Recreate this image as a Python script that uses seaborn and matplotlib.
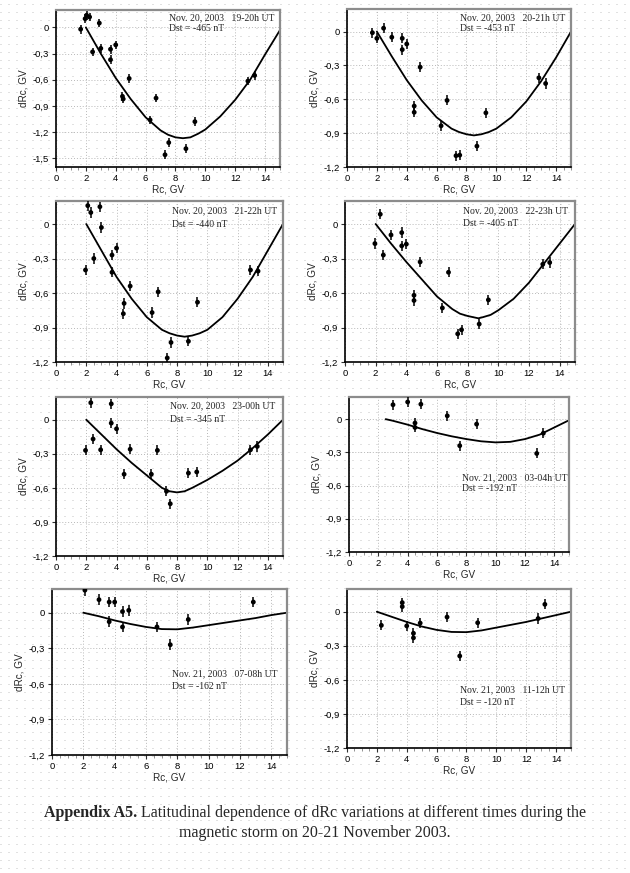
import numpy as np
import pandas as pd
import matplotlib
matplotlib.use("Agg")
import matplotlib.pyplot as plt
import seaborn as sns
from matplotlib.ticker import FixedLocator, FuncFormatter, MultipleLocator

sns.set_theme(style="white")
plt.rcParams['font.family'] = ['Liberation Sans', 'DejaVu Sans']

# ---------------- data ----------------
# panel 1: Nov 20, 19-20h UT
p1_rc = [1.65, 1.95, 2.05, 2.25, 2.45, 2.9, 3.0, 3.65, 3.65, 4.0, 4.45, 4.5, 4.9, 6.3, 6.7, 7.3, 7.55, 8.7, 9.3, 12.85, 13.3]
p1_drc = [-0.02, 0.10, 0.14, 0.12, -0.28, 0.05, -0.24, -0.25, -0.37, -0.20, -0.79, -0.82, -0.585, -1.06, -0.81, -1.46, -1.32, -1.39, -1.08, -0.615, -0.55]
p1_cx = [2, 3, 4, 5, 6, 7, 7.5, 8, 8.5, 9, 9.5, 10, 11, 12, 13, 14, 15]
p1_cy = [0.0, -0.30, -0.58, -0.82, -1.03, -1.18, -1.23, -1.26, -1.27, -1.26, -1.22, -1.17, -1.02, -0.83, -0.60, -0.31, -0.03]

# panel 2: Nov 20, 20-21h UT
p2_rc = [1.7, 2.0, 2.45, 3.0, 3.7, 3.7, 4.0, 4.5, 4.5, 4.9, 6.3, 6.7, 7.3, 7.55, 8.7, 9.3, 12.85, 13.3]
p2_drc = [-0.01, -0.06, 0.03, -0.05, -0.06, -0.16, -0.11, -0.66, -0.715, -0.315, -0.835, -0.61, -1.10, -1.095, -1.015, -0.72, -0.41, -0.46]
p2_cx = [2, 3, 4, 5, 6, 7, 7.5, 8, 8.5, 9, 9.5, 10, 11, 12, 13, 14, 15]
p2_cy = [0.0, -0.22, -0.43, -0.61, -0.76, -0.86, -0.89, -0.91, -0.92, -0.91, -0.89, -0.86, -0.76, -0.62, -0.44, -0.23, 0.0]

# panel 3: Nov 20, 21-22h UT
p3_rc = [1.95, 2.1, 2.3, 2.5, 2.9, 3.0, 3.7, 3.7, 4.0, 4.45, 4.5, 4.9, 6.35, 6.75, 7.35, 7.6, 8.75, 9.35, 12.85, 13.35]
p3_drc = [-0.40, 0.16, 0.10, -0.30, 0.15, -0.03, -0.27, -0.42, -0.21, -0.78, -0.69, -0.54, -0.77, -0.59, -1.165, -1.03, -1.02, -0.68, -0.40, -0.41]
p3_cx = [2, 3, 4, 5, 6, 7, 7.5, 8, 8.5, 9, 9.5, 10, 11, 12, 13, 14, 15]
p3_cy = [0.0, -0.23, -0.46, -0.65, -0.81, -0.92, -0.95, -0.97, -0.98, -0.97, -0.95, -0.92, -0.81, -0.65, -0.46, -0.23, 0.0]

# panel 4: Nov 20, 22-23h UT
p4_rc = [1.95, 2.3, 2.5, 3.0, 3.7, 3.7, 4.0, 4.9, 4.5, 4.5, 6.35, 6.75, 7.35, 7.6, 8.75, 9.35, 12.9, 13.35]
p4_drc = [-0.17, 0.085, -0.27, -0.095, -0.075, -0.19, -0.175, -0.33, -0.62, -0.665, -0.73, -0.42, -0.955, -0.92, -0.87, -0.66, -0.35, -0.335]
p4_cx = [2, 3, 4, 5, 6, 7, 7.5, 8, 8.7, 9, 9.5, 10, 11, 12, 13, 14, 15]
p4_cy = [0.0, -0.17, -0.33, -0.48, -0.63, -0.74, -0.78, -0.80, -0.82, -0.81, -0.79, -0.75, -0.65, -0.51, -0.34, -0.17, 0.0]

# panel 5: Nov 20, 23-00h UT
p5_rc = [1.95, 2.3, 2.45, 2.95, 3.65, 3.65, 4.0, 4.5, 4.9, 6.3, 6.7, 7.3, 7.55, 8.75, 9.3, 12.85, 13.3]
p5_drc = [-0.27, 0.15, -0.17, -0.265, 0.14, -0.03, -0.08, -0.48, -0.26, -0.48, -0.27, -0.63, -0.74, -0.47, -0.46, -0.265, -0.235]
p5_cx = [2, 3, 4, 5, 6, 7, 7.5, 8, 8.5, 9, 10, 11, 12, 13, 14, 15]
p5_cy = [0.0, -0.13, -0.26, -0.38, -0.49, -0.60, -0.63, -0.64, -0.63, -0.60, -0.53, -0.45, -0.36, -0.25, -0.13, 0.0]

# panel 6: Nov 21, 03-04h UT
p6_rc = [3.0, 4.0, 4.9, 6.7, 4.5, 4.5, 7.55, 8.7, 12.8, 13.25]
p6_drc = [0.13, 0.155, 0.135, 0.03, -0.035, -0.075, -0.24, -0.045, -0.31, -0.127]
p6_cx = [2.5, 3, 4, 5, 6, 7, 8, 9, 10, 11, 12, 13, 14, 15]
p6_cy = [0.0, -0.015, -0.05, -0.09, -0.125, -0.155, -0.18, -0.20, -0.21, -0.205, -0.18, -0.14, -0.075, -0.01]

# panel 7: Nov 21, 07-08h UT
p7_rc = [2.1, 3.0, 3.65, 4.0, 4.5, 4.9, 3.65, 4.5, 6.7, 7.55, 8.7, 12.85]
p7_drc = [0.19, 0.11, 0.09, 0.09, 0.01, 0.02, -0.076, -0.12, -0.12, -0.27, -0.057, 0.09]
p7_cx = [2, 3, 4, 5, 6, 7, 8, 9, 10, 11, 12, 13, 14, 15]
p7_cy = [0.0, -0.03, -0.065, -0.095, -0.12, -0.138, -0.14, -0.125, -0.105, -0.085, -0.065, -0.045, -0.02, 0.0]

# panel 8: Nov 21, 11-12h UT
p8_rc = [2.3, 3.7, 3.7, 4.0, 4.45, 4.45, 4.9, 6.7, 7.55, 8.75, 12.8, 13.25]
p8_drc = [-0.12, 0.08, 0.045, -0.125, -0.19, -0.23, -0.10, -0.047, -0.39, -0.097, -0.06, 0.065]
p8_cx = [2, 3, 4, 5, 6, 7, 8, 9, 10, 11, 12, 13, 14, 15]
p8_cy = [0.0, -0.045, -0.09, -0.13, -0.16, -0.178, -0.18, -0.165, -0.14, -0.115, -0.09, -0.06, -0.03, 0.0]

panel_dates = ["Nov. 20, 2003   19-20h UT", "Nov. 20, 2003   20-21h UT",
               "Nov. 20, 2003   21-22h UT", "Nov. 20, 2003   22-23h UT",
               "Nov. 20, 2003   23-00h UT", "Nov. 21, 2003   03-04h UT",
               "Nov. 21, 2003   07-08h UT", "Nov. 21, 2003   11-12h UT"]
panel_dst = ["Dst = -465 nT", "Dst = -453 nT", "Dst = -440 nT", "Dst = -405 nT",
             "Dst = -345 nT", "Dst = -192 nT", "Dst = -162 nT", "Dst = -120 nT"]
err_gv = [0.05, 0.045, 0.045, 0.045, 0.045, 0.045, 0.045, 0.045]

x_ticks = [0, 2, 4, 6, 8, 10, 12, 14]
y_ticks_p1 = [0, -0.3, -0.6, -0.9, -1.2, -1.5]
y_ticks = [0, -0.3, -0.6, -0.9, -1.2]

caption_bold = "Appendix A5."
caption_rest = " Latitudinal dependence of dRc variations at different times during the"
caption_line2 = "magnetic storm on 20-21 November 2003."

# ---------------- layout ----------------
W, H = 630, 873
fig = plt.figure(figsize=(W / 100, H / 100), dpi=100)
fig.patch.set_facecolor("white")

# page background dot lattice
bg = fig.add_axes([0, 0, 1, 1], zorder=-10)
bg.set_xlim(0, W)
bg.set_ylim(H, 0)
bg.set_yticks(np.arange(4, H, 8))
bg.set_xticks([])
bg.grid(axis="y", color="#c4c4c4", linestyle=(0, (1, 7)), linewidth=0.72)
bg.tick_params(left=False, labelleft=False)
for s in bg.spines.values():
    s.set_visible(False)
bg.set_facecolor("white")

# pixel boxes (left, top, right, bottom)
boxes = [(56, 10, 280, 167), (347, 9, 571, 167),
         (56, 201, 283, 362), (345, 201, 575, 362),
         (56, 397, 283, 556), (349, 397, 569, 552),
         (52, 589, 287, 755), (347, 589, 571, 748)]
ylims = [(-1.6, 0.2)] + [(-1.2, 0.2)] * 7
# text anchor (data coords) for the annotation
txt_pos = [(7.6, 0.106, -0.015), (7.6, 0.125, 0.03), (7.65, 0.117, 0.0), (7.7, 0.112, 0.006),
           (7.5, 0.124, 0.0), (7.7, -0.526, -0.625), (7.65, -0.514, -0.62), (7.6, -0.685, -0.797)]

rc_all = [p1_rc, p2_rc, p3_rc, p4_rc, p5_rc, p6_rc, p7_rc, p8_rc]
drc_all = [p1_drc, p2_drc, p3_drc, p4_drc, p5_drc, p6_drc, p7_drc, p8_drc]
cx_all = [p1_cx, p2_cx, p3_cx, p4_cx, p5_cx, p6_cx, p7_cx, p8_cx]
cy_all = [p1_cy, p2_cy, p3_cy, p4_cy, p5_cy, p6_cy, p7_cy, p8_cy]


def fmt_tick(v, pos=None):
    if abs(v) < 1e-9:
        return "0"
    return ("%.1f" % v).replace(".", ",")


for i, (L, T, R, B) in enumerate(boxes):
    ax = fig.add_axes([L / W, 1 - B / H, (R - L) / W, (B - T) / H])
    ax.set_facecolor("none")
    pts = pd.DataFrame({"Rc": rc_all[i], "dRc": drc_all[i]})
    cur = pd.DataFrame({"Rc": cx_all[i], "dRc": cy_all[i]})

    ax.errorbar(pts["Rc"], pts["dRc"], yerr=err_gv[i], fmt="none",
                ecolor="black", elinewidth=1.1, capsize=0, zorder=3)
    sns.scatterplot(data=pts, x="Rc", y="dRc", ax=ax, color="black", s=12,
                    marker="o", edgecolor="none", zorder=4, legend=False)
    sns.lineplot(data=cur, x="Rc", y="dRc", ax=ax, color="black", lw=1.3,
                 estimator=None, sort=False, zorder=2)

    ax.set_xlim(0, 15)
    ax.set_ylim(*ylims[i])
    ax.xaxis.set_major_locator(FixedLocator(x_ticks))
    ax.xaxis.set_minor_locator(MultipleLocator(0.5))
    ax.yaxis.set_major_locator(FixedLocator(y_ticks_p1 if i == 0 else y_ticks))
    ax.yaxis.set_major_formatter(FuncFormatter(fmt_tick))
    ax.grid(True, which="major", color="#b8b8b8", linestyle=(0, (1, 2)), linewidth=0.7)
    ax.tick_params(axis="both", which="major", direction="out", length=3, width=0.8,
                   labelsize=6.8, pad=2, colors="#303030", labelcolor="black",
                   bottom=True, left=True)
    ax.tick_params(axis="x", which="minor", direction="out", length=1.8, width=0.6,
                   colors="#808080", bottom=True)
    ax.set_xlabel("Rc, GV", fontsize=7.2, labelpad=1)
    ax.set_ylabel("dRc, GV", fontsize=7.2, labelpad=3)
    for side in ("left", "bottom"):
        ax.spines[side].set_color("black")
        ax.spines[side].set_linewidth(1.2)
    for side in ("top", "right"):
        ax.spines[side].set_color("#8c8c8c")
        ax.spines[side].set_linewidth(1.6)

    tx, ty1, ty2 = txt_pos[i]
    ax.text(tx, ty1, panel_dates[i], fontsize=7, family=["Liberation Serif", "DejaVu Serif"],
            va="center", ha="left", zorder=5)
    ax.text(tx, ty2, panel_dst[i], fontsize=7, family=["Liberation Serif", "DejaVu Serif"],
            va="center", ha="left", zorder=5)

# caption
cap_fs = 11.5
y1 = 1 - 813 / H
y2 = 1 - 833 / H
serif = ["Liberation Serif", "DejaVu Serif"]
t1 = fig.text(0, y1, caption_bold, fontsize=cap_fs, fontweight="bold", family=serif, va="center")
t2 = fig.text(0, y1, caption_rest, fontsize=cap_fs, family=serif, va="center")
renderer = fig.canvas.get_renderer()
w1 = t1.get_window_extent(renderer).width
w2 = t2.get_window_extent(renderer).width
x0 = (W - (w1 + w2)) / 2
t1.set_x(x0 / W)
t2.set_x((x0 + w1) / W)
fig.text(0.5, y2, caption_line2, fontsize=cap_fs, family=serif, va="center", ha="center")

fig.savefig("out.png", dpi=100, facecolor="white")
